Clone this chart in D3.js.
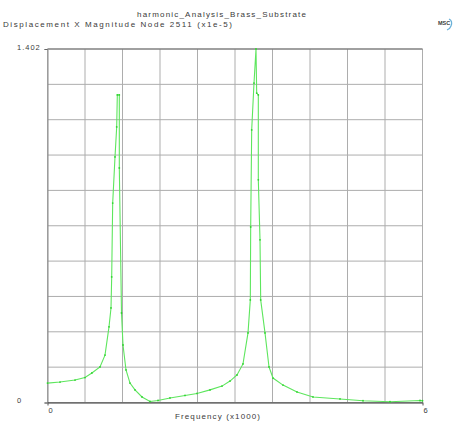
<!DOCTYPE html>
<html>
<head>
<meta charset="utf-8">
<script src="https://cdn.jsdelivr.net/npm/d3@7"></script>
<style>
  body { margin: 0; background: #fff; }
  text { font-family: "Liberation Sans", Arial, sans-serif; fill: #3a3a3a; }
</style>
</head>
<body>
<svg id="chart" width="461" height="421" viewBox="0 0 461 421"></svg>
<script>
// frequency (x1000)
const freq = [0, 0.2, 0.44, 0.6, 0.71, 0.84, 0.92, 0.984, 1.016, 1.027, 1.043, 1.08, 1.107, 1.117,
    1.149, 1.149, 1.184, 1.208, 1.256, 1.32, 1.4, 1.512, 1.64, 1.768, 1.96, 2.2, 2.392, 2.6, 2.792,
    2.92, 3.032, 3.128, 3.208, 3.245, 3.251, 3.267, 3.304, 3.336, 3.347, 3.373, 3.373, 3.4, 3.411,
    3.48, 3.544, 3.608, 3.768, 3.992, 4.248, 4.68, 5.048, 5.48, 5.96, 6];
// displacement magnitude (x1e-5)
const magnitude = [0.077, 0.081, 0.089, 0.099, 0.117, 0.141, 0.188, 0.3, 0.375, 0.498, 0.791, 0.974, 1.093, 1.22,
    1.22, 0.93, 0.355, 0.228, 0.129, 0.077, 0.05, 0.022, 0.004, 0.008, 0.018, 0.028, 0.036, 0.05, 0.065,
    0.085, 0.109, 0.153, 0.276, 0.407, 0.696, 1.081, 1.267, 1.402, 1.227, 1.22, 0.883, 0.645, 0.407,
    0.276, 0.141, 0.097, 0.069, 0.042, 0.022, 0.014, 0.007, 0.003, 0.008, 0.007];

const xGridValues = [0, 0.6, 1.2, 1.8, 2.4, 3, 3.6, 4.2, 4.8, 5.4, 6];
const yGridValues = [0, 0.1402, 0.2804, 0.4206, 0.5608, 0.701, 0.8412, 0.9814, 1.1216, 1.2618, 1.402];
const xTickLabels = [0, 6];
const yTickLabels = [0, 1.402];

const title = "harmonic_Analysis_Brass_Substrate";
const subtitle = "Displacement X Magnitude Node 2511 (x1e-5)";
const xTitle = "Frequency (x1000)";

const svg = d3.select("#chart");
const x = d3.scaleLinear().domain([0, 6]).range([47.5, 422.5]);
const y = d3.scaleLinear().domain([0, 1.402]).range([402.5, 49]);

// grid
svg.append("g")
    .attr("stroke", "#adadad")
    .attr("stroke-width", 1)
    .selectAll("line")
    .data(xGridValues)
    .join("line")
    .attr("x1", d => x(d)).attr("x2", d => x(d))
    .attr("y1", y(0)).attr("y2", y(1.402));

svg.append("g")
    .attr("stroke", "#adadad")
    .attr("stroke-width", 1)
    .selectAll("line")
    .data(yGridValues)
    .join("line")
    .attr("x1", x(0)).attr("x2", x(6))
    .attr("y1", d => y(d)).attr("y2", d => y(d));

// top border a bit darker
svg.append("line")
    .attr("x1", x(0)).attr("x2", x(6))
    .attr("y1", y(1.402)).attr("y2", y(1.402))
    .attr("stroke", "#6a6a6a");

// axes
const yAxis = svg.append("g")
    .attr("transform", `translate(${x(0)},0)`)
    .call(d3.axisLeft(y).tickValues(yTickLabels).tickSize(3).tickFormat(d => d === 0 ? "0" : "1.402"));
yAxis.select(".domain").attr("stroke", "#8a8a8a");
yAxis.selectAll(".tick line").attr("stroke", "#666");
yAxis.selectAll("text")
    .attr("x", 17 - x(0))
    .attr("dy", "0")
    .attr("text-anchor", "start")
    .attr("font-size", 7.5)
    .attr("letter-spacing", 1)
    .attr("fill", "#555")
    .attr("font-family", null);

const xAxis = svg.append("g")
    .attr("transform", `translate(0,${y(0)})`)
    .call(d3.axisBottom(x).tickValues(xTickLabels).tickSize(3).tickSizeOuter(0).tickFormat(d3.format("d")));
xAxis.select(".domain").attr("stroke", "#333");
xAxis.selectAll(".tick line").attr("stroke", "#555");
xAxis.selectAll("text")
    .attr("text-anchor", "start")
    .attr("x", 0.5)
    .attr("y", 5)
    .attr("font-size", 7.5)
    .attr("fill", "#555")
    .attr("font-family", null);

// curve
const pts = freq.map((f, i) => [f, magnitude[i]]);
svg.append("path")
    .datum(pts)
    .attr("fill", "none")
    .attr("stroke", "#5ee65e")
    .attr("stroke-width", 1.1)
    .attr("d", d3.line().x(d => x(d[0])).y(d => y(d[1])));

svg.append("g")
    .attr("fill", "#2fd42f")
    .selectAll("circle")
    .data(pts)
    .join("circle")
    .attr("cx", d => x(d[0]))
    .attr("cy", d => y(d[1]))
    .attr("r", 0.9);

// titles
svg.append("text")
    .attr("x", 137).attr("y", 17)
    .attr("font-size", 8)
    .attr("textLength", 169)
    .attr("lengthAdjust", "spacing")
    .text(title);

svg.append("text")
    .attr("x", 3).attr("y", 27)
    .attr("font-size", 8)
    .attr("textLength", 229)
    .attr("lengthAdjust", "spacing")
    .text(subtitle);

svg.append("text")
    .attr("x", 175).attr("y", 419)
    .attr("font-size", 8)
    .attr("textLength", 85)
    .attr("lengthAdjust", "spacing")
    .text(xTitle);

// MSC logo
const logo = svg.append("g").attr("transform", "translate(438,25)");
logo.append("text")
    .attr("font-size", 5.5)
    .attr("font-weight", "bold")
    .attr("fill", "#555")
    .text("MSC");
logo.append("path")
    .attr("d", "M11,-6 Q15,-4 13,1 Q12,4 9,5")
    .attr("fill", "none")
    .attr("stroke", "#6ab0d8")
    .attr("stroke-width", 1.2);
</script>
</body>
</html>
